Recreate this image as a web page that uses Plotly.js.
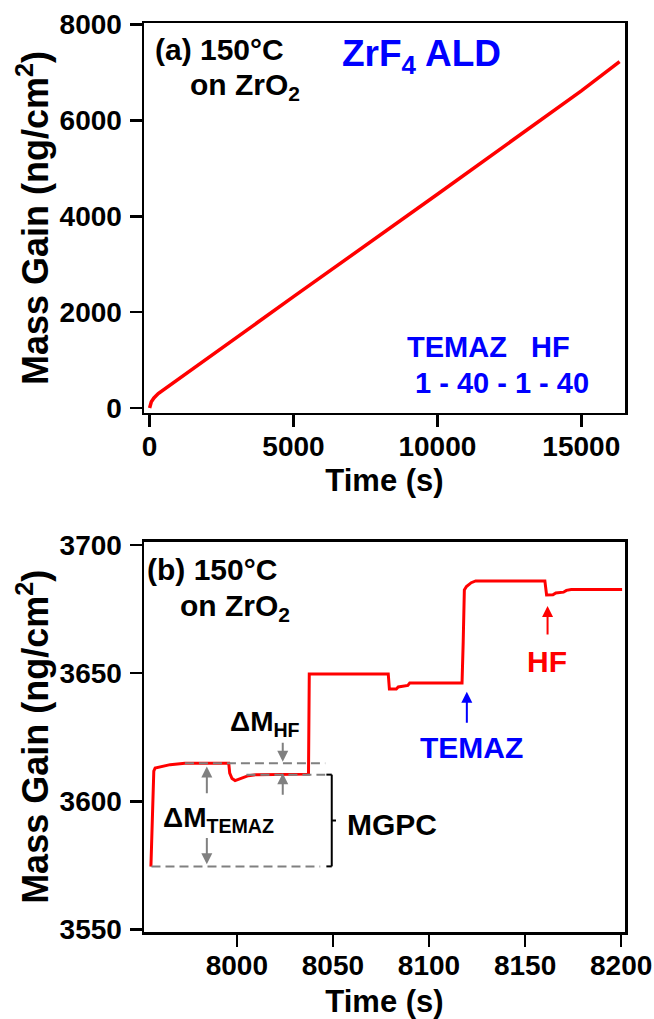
<!DOCTYPE html>
<html>
<head>
<meta charset="utf-8">
<script src="https://cdn.plot.ly/plotly-3.0.1.min.js"></script>
<style>
  html, body { margin: 0; padding: 0; background: #ffffff; }
  #chart { width: 654px; height: 1019px; }
</style>
</head>
<body>
<div id="chart"></div>
<script>
// ---- data ----
// (a) full run
const runTime = [0, 20, 60, 150, 300, 5000, 10000, 15000, 16330];
const runMass = [0, 60, 130, 210, 300, 2323, 4460, 6620, 7230];

// (b) zoom on two ALD cycles
const cycTime = [7955.3, 7955.9, 7956.8, 7957.5, 7965.3, 7973, 7995.8, 7996.3, 7997.5, 7999.1,
                 8002.6, 8006, 8010, 8037.3, 8037.7, 8078.8, 8079.4, 8083, 8084, 8089, 8090,
                 8117.2, 8117.8, 8118.4, 8119.5, 8122, 8124.3, 8160.3, 8161.2, 8164.5, 8166,
                 8170, 8171.5, 8174, 8200.5];
const cycMass = [3574.5, 3592, 3611.8, 3613, 3614.3, 3614.8, 3614.8, 3611, 3608.9, 3608.1,
                 3609.1, 3610, 3610.4, 3610.6, 3649.7, 3649.7, 3643.8, 3643.8, 3644.6, 3645.2, 3646.2,
                 3646.2, 3662, 3682.5, 3683.8, 3685.3, 3686.0, 3686.0, 3680.5, 3680.6, 3681.3,
                 3681.6, 3682.3, 3682.6, 3682.6];

// tick labels
const runXTicks = [0, 5000, 10000, 15000];
const runYTicks = [0, 2000, 4000, 6000, 8000];
const cycXTicks = [8000, 8050, 8100, 8150, 8200];
const cycYTicks = [3550, 3600, 3650, 3700];

// annotation levels (b)
const levelTop = 3614.8;     // after TEMAZ
const levelMid = 3610.4;     // after HF
const levelBase = 3574.6;    // start of cycle

// ---- styles ----
const FONT = 'Liberation Sans, Arial, sans-serif';
const RED = '#ff0000', BLUE = '#0000ff', GRAY = '#808080';

function axisCommon(extra) {
  return Object.assign({
    showline: true, linewidth: 2.5, linecolor: '#000', mirror: true,
    ticks: 'outside', ticklen: 12, tickwidth: 2.5, tickcolor: '#000',
    showgrid: false, zeroline: false,
    tickfont: {family: FONT, size: 28, color: '#000', weight: 'bold'}
  }, extra);
}

const traces = [
  {x: runTime, y: runMass, xaxis: 'x', yaxis: 'y', mode: 'lines',
   line: {color: RED, width: 3.5}, hoverinfo: 'skip'},
  {x: cycTime, y: cycMass, xaxis: 'x2', yaxis: 'y2', mode: 'lines',
   line: {color: RED, width: 3, shape: 'linear'}, hoverinfo: 'skip'}
];

function xTitle(standoff) {
  return {text: 'Time (s)', font: {family: FONT, size: 31, color: '#000', weight: 'bold'}, standoff: standoff};
}
const yTitle = {text: 'Mass Gain (ng/cm<sup>2</sup>)\u00a0\u00a0\u00a0', font: {family: FONT, size: 36, color: '#000', weight: 'bold'}, standoff: 0};

function txt(xref, yref, x, y, text, color, size, xanchor) {
  return {xref: xref, yref: yref, x: x, y: y, text: text, showarrow: false,
          xanchor: xanchor || 'left', yanchor: 'middle',
          font: {family: FONT, size: size, color: color, weight: 'bold'}};
}
function arrow(xref, yref, x, yHead, yTail, color, width) {
  return {xref: xref, yref: yref, axref: xref, ayref: yref, x: x, y: yHead, ax: x, ay: yTail,
          text: '', showarrow: true, arrowhead: 2, arrowsize: 1.1, arrowwidth: width, arrowcolor: color,
          standoff: 0, startstandoff: 0};
}

const annotations = [
  // panel (a)
  txt('x', 'y', 129, 7478, '(a) 150°C', '#000', 30),
  txt('x', 'y', 1345, 6700, 'on ZrO<sub>2</sub>', '#000', 30),
  txt('x', 'y', 9455, 7350, 'ZrF<sub>4</sub> ALD', BLUE, 37, 'center'),
  txt('x', 'y', 8874, 1280, 'TEMAZ   HF', BLUE, 29),
  txt('x', 'y', 9163, 516, '1 - 40 - 1 - 40', BLUE, 29),
  // panel (b)
  txt('x2', 'y2', 7952.3, 3690.5, '(b) 150°C', '#000', 30),
  txt('x2', 'y2', 7969.4, 3675.5, 'on ZrO<sub>2</sub>', '#000', 30),
  txt('x2', 'y2', 8161.4, 3654.7, 'HF', RED, 30, 'center'),
  txt('x2', 'y2', 8122.2, 3620.8, 'TEMAZ', BLUE, 30, 'center'),
  txt('x2', 'y2', 7995.5, 3630.5, 'ΔM<sub>HF</sub>', '#000', 28),
  txt('x2', 'y2', 7960.5, 3593, 'ΔM<sub>TEMAZ</sub>', '#000', 28),
  txt('x2', 'y2', 8056.4, 3591.1, 'MGPC', '#000', 30),
  arrow('x2', 'y2', 8119.7, 3642.7, 3630.1, BLUE, 2),
  arrow('x2', 'y2', 8161.7, 3676.2, 3664.5, RED, 2),
  arrow('x2', 'y2', 7984.4, 3613.6, 3602.6, GRAY, 2),
  arrow('x2', 'y2', 7984.4, 3575.4, 3586.3, GRAY, 2),
  arrow('x2', 'y2', 8023.9, 3615.4, 3623.4, GRAY, 2),
  arrow('x2', 'y2', 8023.9, 3610.9, 3602.0, GRAY, 2)
];

const dash = {color: GRAY, width: 2, dash: '9px,5px'};
const blk = {color: '#000', width: 2};
const shapes = [
  {type: 'line', xref: 'x2', yref: 'y2', x0: 7973, x1: 8046, y0: levelTop, y1: levelTop, line: dash},
  {type: 'line', xref: 'x2', yref: 'y2', x0: 8005, x1: 8046, y0: levelMid, y1: levelMid, line: dash},
  {type: 'line', xref: 'x2', yref: 'y2', x0: 7955.6, x1: 8043.4, y0: levelBase, y1: levelBase, line: dash},
  // bracket
  {type: 'line', xref: 'x2', yref: 'y2', x0: 8049.4, x1: 8049.4, y0: levelMid, y1: levelBase, line: blk},
  {type: 'line', xref: 'x2', yref: 'y2', x0: 8046.6, x1: 8049.4, y0: levelMid, y1: levelMid, line: blk},
  {type: 'line', xref: 'x2', yref: 'y2', x0: 8046.6, x1: 8049.4, y0: levelBase, y1: levelBase, line: blk},
  {type: 'line', xref: 'x2', yref: 'y2', x0: 8049.4, x1: 8051.6, y0: (levelMid + levelBase) / 2, y1: (levelMid + levelBase) / 2, line: blk}
];

const layout = {
  width: 654, height: 1019,
  margin: {l: 144, r: 29, t: 23, b: 87, pad: 0},
  paper_bgcolor: '#fff', plot_bgcolor: '#fff',
  showlegend: false,
  font: {family: FONT, color: '#000', weight: 'bold'},
  xaxis: axisCommon({domain: [0, 1], anchor: 'y', range: [-195, 16518], ticklabelstandoff: -5,
                     tickvals: runXTicks, ticktext: runXTicks.map(String), title: xTitle(8)}),
  yaxis: axisCommon({domain: [0.571, 1], anchor: 'x', range: [-104, 8035], ticklabelstandoff: 2,
                     tickvals: runYTicks, ticktext: runYTicks.map(String), title: yTitle}),
  xaxis2: axisCommon({domain: [0, 1], anchor: 'y2', range: [7951.7, 8202], ticklabelstandoff: -5,
                      tickvals: cycXTicks, ticktext: cycXTicks.map(String), title: xTitle(11)}),
  yaxis2: axisCommon({domain: [0, 0.4294], anchor: 'x2', range: [3549, 3701.3], ticklabelstandoff: 2,
                      tickvals: cycYTicks, ticktext: cycYTicks.map(String), title: yTitle}),
  annotations: annotations,
  shapes: shapes
};

Plotly.newPlot('chart', traces, layout, {staticPlot: true, displayModeBar: false});
</script>
</body>
</html>
